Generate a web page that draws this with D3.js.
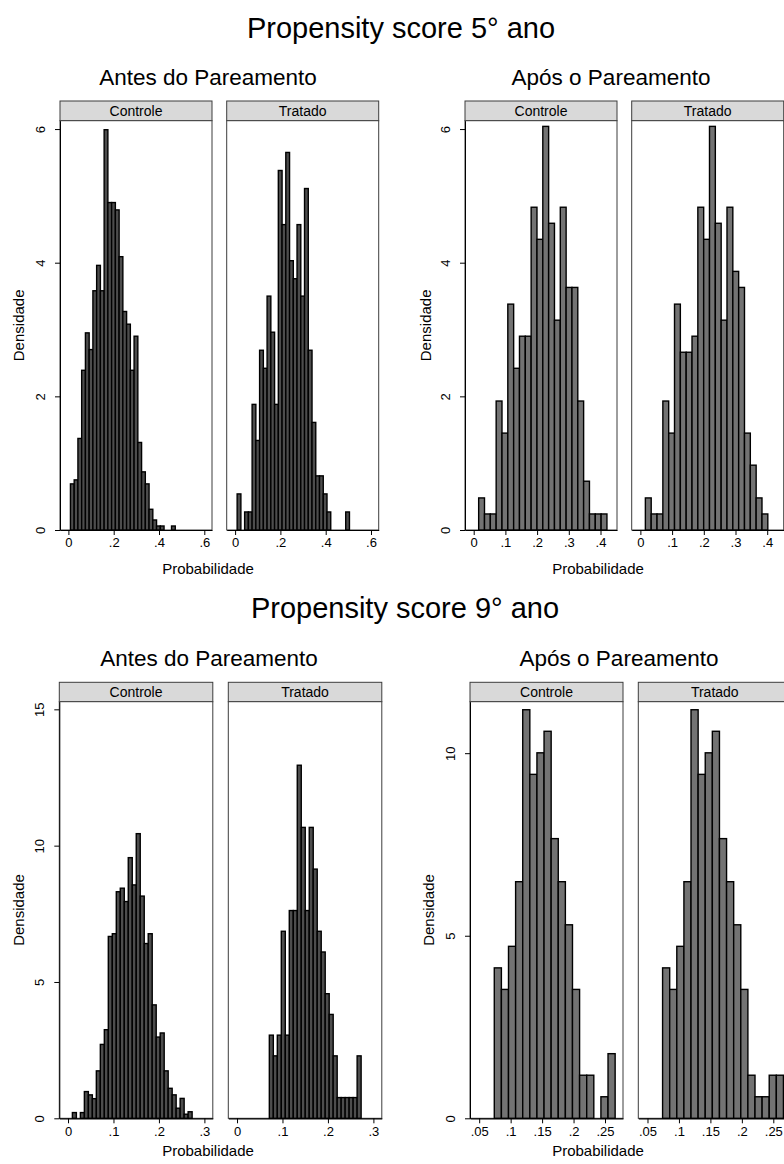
<!DOCTYPE html>
<html>
<head>
<meta charset="utf-8">
<script src="https://cdn.jsdelivr.net/npm/d3@7"></script>
<style>
  body { margin: 0; background: #fff; }
  svg text { font-family: "Liberation Sans", Arial, sans-serif; fill: #000; }
</style>
</head>
<body>
<svg id="chart" width="784" height="1164"></svg>
<script>
// ---- data ----
const groupLabels = ["Controle", "Tratado"];
const titles = ["Propensity score 5° ano", "Propensity score 9° ano"];
const subtitles = ["Antes do Pareamento", "Após o Pareamento"];
const xAxisTitle = "Probabilidade";
const yAxisTitle = "Densidade";

// bins: first edge + bin width (shared by the two panels of a subgraph)
const bins5Antes = { start: 0.009, width: 0.01653 };
const bins5Apos = { start: 0.0157, width: 0.01839 };
const bins9Antes = { start: 0.0096, width: 0.00878 };
const bins9Apos = { start: 0.074, width: 0.0113 };

// densities per bin
const dens5AntesControle = [0.69, 0.75, 1.37, 2.39, 2.95, 2.70, 3.58, 3.96, 3.58, 5.99,
  4.90, 4.90, 4.79, 4.09, 3.27, 3.08, 2.39, 2.90, 1.31, 0.87,
  0.69, 0.31, 0.15, 0.06, 0.06, 0, 0, 0.06, 0, 0];
const dens5AntesTratado = [0.54, 0, 0.27, 0.27, 1.88, 1.34, 2.69, 2.42, 3.50, 2.96,
  1.88, 5.38, 4.57, 5.65, 4.03, 3.76, 4.57, 3.50, 5.11, 2.69,
  1.61, 0.81, 0.81, 0.54, 0.27, 0, 0, 0, 0, 0.27];
const dens5AposControle = [0.48, 0.24, 0.24, 1.93, 1.45, 3.38, 2.42, 2.90, 2.90, 4.83,
  4.35, 6.04, 4.59, 3.14, 4.83, 3.63, 3.63, 1.93, 0.73, 0.24, 0.24, 0.24];
const dens5AposTratado = [0.48, 0.24, 0.24, 1.93, 1.45, 3.38, 2.66, 2.66, 2.90, 4.83,
  4.35, 6.04, 4.59, 3.14, 4.83, 3.87, 3.63, 1.45, 0.97, 0.48, 0.24, 0];
const dens9AntesControle = [0.21, 0, 0.21, 0.98, 0.86, 0.72, 1.74, 2.71, 3.25, 6.67,
  6.77, 8.31, 8.44, 7.95, 9.56, 8.56, 10.44, 8.15, 6.41, 6.77,
  4.16, 2.98, 3.13, 1.74, 1.10, 0.86, 0.37, 0.73, 0.15, 0.24];
const dens9AntesTratado = [0, 0, 0, 0, 0, 0, 0, 3.05, 2.29, 3.05,
  6.86, 3.05, 7.62, 7.62, 12.95, 10.67, 7.62, 10.67, 9.14, 6.86,
  6.10, 4.57, 3.81, 2.29, 0.76, 0.76, 0.76, 0.76, 0.76, 2.29];
const dens9AposControle = [4.12, 3.53, 4.71, 6.48, 11.19, 9.42, 10.01, 10.60, 7.66, 6.48,
  5.30, 3.53, 1.18, 1.18, 0, 0.59, 1.77];
const dens9AposTratado = [4.12, 3.53, 4.71, 6.48, 11.19, 9.42, 10.01, 10.60, 7.66, 6.48,
  5.30, 3.53, 1.18, 0.59, 0.59, 1.18, 1.18];

// tick values
const xTicks5Antes = [0, 0.2, 0.4, 0.6];
const xTicks5Apos = [0, 0.1, 0.2, 0.3, 0.4];
const xTicks9Antes = [0, 0.1, 0.2, 0.3];
const xTicks9Apos = [0.05, 0.1, 0.15, 0.2, 0.25];
const yTicks5 = [0, 2, 4, 6];
const yTicks9Antes = [0, 5, 10, 15];
const yTicks9Apos = [0, 5, 10];

// ---- drawing ----
const svg = d3.select("#chart");

// Stata style labels: 0, .2, .05, 10
const fmtTick = d => d === 0 ? "0" : d3.format("~g")(d).replace(/^0\./, ".");

function drawSubgraph(cfg) {
  const g = svg.append("g");
  const y = d3.scaleLinear().domain([0, cfg.yMax]).range([cfg.plotBottom, cfg.plotTop]);

  cfg.panelLefts.forEach((left, i) => {
    const x = d3.scaleLinear().domain(cfg.xDomain).range([left, left + cfg.panelWidth]);
    const p = g.append("g");

    // strip
    p.append("rect")
      .attr("x", left).attr("y", cfg.stripTop)
      .attr("width", cfg.panelWidth).attr("height", cfg.plotTop - cfg.stripTop)
      .attr("fill", "#d9d9d9").attr("stroke", "#3c3c3c").attr("stroke-width", 1);
    p.append("text")
      .attr("x", left + cfg.panelWidth / 2).attr("y", cfg.plotTop - 5)
      .attr("text-anchor", "middle").style("font-size", "14px")
      .text(groupLabels[i]);

    // plot region
    p.append("rect")
      .attr("x", left).attr("y", cfg.plotTop)
      .attr("width", cfg.panelWidth).attr("height", cfg.plotBottom - cfg.plotTop)
      .attr("fill", "#fff").attr("stroke", "#3c3c3c").attr("stroke-width", 1);

    // bars
    const bars = cfg.series[i]
      .map((v, k) => ({ x0: cfg.bins.start + k * cfg.bins.width, v }))
      .filter(d => d.v > 0);
    p.selectAll(".bar").data(bars).enter()
      .append("rect")
      .attr("class", "bar")
      .attr("x", d => x(d.x0))
      .attr("width", d => x(d.x0 + cfg.bins.width) - x(d.x0))
      .attr("y", d => y(d.v))
      .attr("height", d => y(0) - y(d.v))
      .attr("fill", cfg.barFill)
      .attr("stroke", "#000")
      .attr("stroke-width", 1.4);

    // x axis
    const xa = p.append("g")
      .attr("transform", `translate(0,${cfg.plotBottom})`)
      .call(d3.axisBottom(x).tickValues(cfg.xTicks).tickSize(5).tickSizeOuter(0).tickFormat(fmtTick));
    xa.select(".domain").attr("stroke", "#000").attr("stroke-width", 1.2);
    xa.selectAll("text").style("font-size", "13px").style("font-family", "Liberation Sans, Arial, sans-serif");

    // y axis only on first panel
    if (i === 0) {
      const ya = p.append("g")
        .attr("transform", `translate(${left},0)`)
        .call(d3.axisLeft(y).tickValues(cfg.yTicks).tickSize(5).tickSizeOuter(0).tickFormat(fmtTick));
      ya.select(".domain").attr("stroke", "#000");
      ya.selectAll("text")
        .attr("transform", "rotate(-90)")
        .attr("x", 0).attr("y", -15).attr("dy", 0)
        .style("text-anchor", "middle")
        .style("font-size", "13px")
        .style("font-family", "Liberation Sans, Arial, sans-serif");
    }
  });

  // subtitle and axis titles
  g.append("text")
    .attr("x", cfg.subX).attr("y", cfg.subY)
    .attr("text-anchor", "middle").style("font-size", "22.5px")
    .text(cfg.subtitle);
  g.append("text")
    .attr("x", cfg.xTitleX).attr("y", cfg.xTitleY)
    .attr("text-anchor", "middle").style("font-size", "15px")
    .text(xAxisTitle);
  g.append("text")
    .attr("transform", `translate(${cfg.yTitleX},${(cfg.plotTop + cfg.plotBottom) / 2}) rotate(-90)`)
    .attr("text-anchor", "middle").style("font-size", "15px")
    .text(yAxisTitle);
}

// main titles
svg.append("text").attr("x", 401).attr("y", 38)
  .attr("text-anchor", "middle").style("font-size", "29px").text(titles[0]);
svg.append("text").attr("x", 405).attr("y", 618)
  .attr("text-anchor", "middle").style("font-size", "29px").text(titles[1]);

drawSubgraph({
  subtitle: subtitles[0], subX: 208, subY: 85,
  panelLefts: [60, 226.7], panelWidth: 152,
  stripTop: 101, plotTop: 120.7, plotBottom: 530,
  xDomain: [-0.0371, 0.634], yMax: 6.125,
  xTicks: xTicks5Antes, yTicks: yTicks5, barFill: "#4d4d4d",
  bins: bins5Antes, series: [dens5AntesControle, dens5AntesTratado],
  xTitleX: 208, xTitleY: 574, yTitleX: 24
});

drawSubgraph({
  subtitle: subtitles[1], subX: 611, subY: 85,
  panelLefts: [465, 631.7], panelWidth: 152,
  stripTop: 101, plotTop: 120.7, plotBottom: 530,
  xDomain: [-0.0274, 0.452], yMax: 6.125,
  xTicks: xTicks5Apos, yTicks: yTicks5, barFill: "#737373",
  bins: bins5Apos, series: [dens5AposControle, dens5AposTratado],
  xTitleX: 598, xTitleY: 574, yTitleX: 431
});

drawSubgraph({
  subtitle: subtitles[0], subX: 209, subY: 666,
  panelLefts: [59.3, 228.3], panelWidth: 153.5,
  stripTop: 682.3, plotTop: 701.7, plotBottom: 1118.3,
  xDomain: [-0.0192, 0.3185], yMax: 15.28,
  xTicks: xTicks9Antes, yTicks: yTicks9Antes, barFill: "#4d4d4d",
  bins: bins9Antes, series: [dens9AntesControle, dens9AntesTratado],
  xTitleX: 208, xTitleY: 1156, yTitleX: 24
});

drawSubgraph({
  subtitle: subtitles[1], subX: 619, subY: 666,
  panelLefts: [470, 638.3], panelWidth: 153,
  stripTop: 682.3, plotTop: 701.7, plotBottom: 1118.3,
  xDomain: [0.0354, 0.2786], yMax: 11.41,
  xTicks: xTicks9Apos, yTicks: yTicks9Apos, barFill: "#737373",
  bins: bins9Apos, series: [dens9AposControle, dens9AposTratado],
  xTitleX: 598, xTitleY: 1156, yTitleX: 434
});
</script>
</body>
</html>
